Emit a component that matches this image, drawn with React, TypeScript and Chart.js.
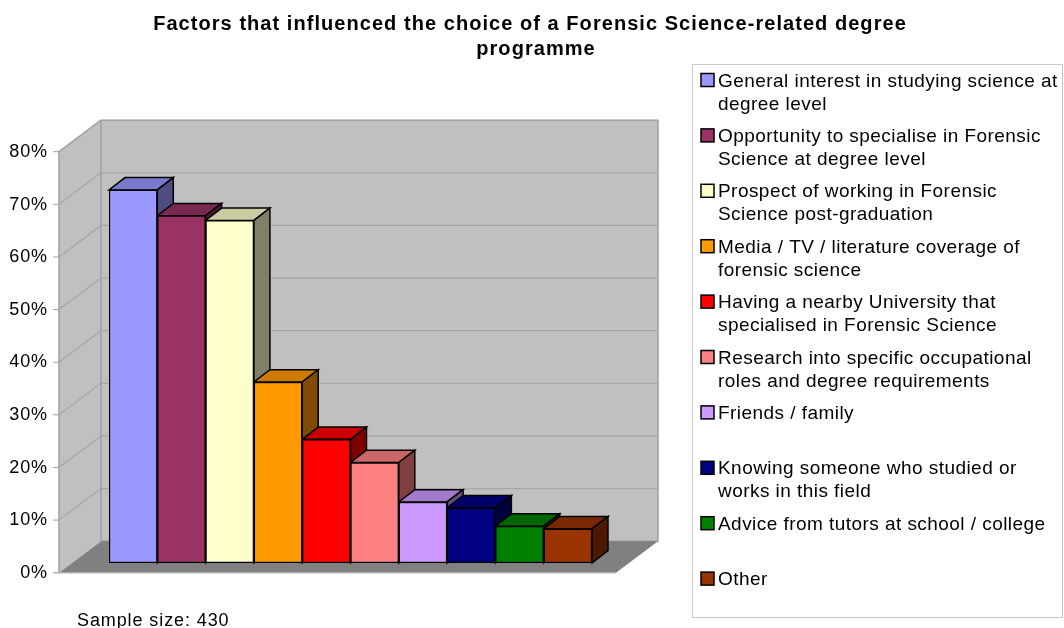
import React, { useEffect, useRef } from 'react';
import { Chart, registerables } from 'chart.js';

Chart.register(...registerables);

// ---------- data ----------
const titleLines = [
  'Factors that influenced the choice of a Forensic Science-related degree',
  'programme',
];

const categories: string[][] = [
  ['General interest in studying science at', 'degree level'],
  ['Opportunity to specialise in Forensic', 'Science at degree level'],
  ['Prospect of working in Forensic', 'Science post-graduation'],
  ['Media / TV / literature coverage of', 'forensic science'],
  ['Having a nearby University that', 'specialised in Forensic Science'],
  ['Research into specific occupational', 'roles and degree requirements'],
  ['Friends / family'],
  ['Knowing someone who studied or', 'works in this field'],
  ['Advice from tutors at school / college'],
  ['Other'],
];

const values = [70.9, 66.0, 65.1, 34.4, 23.5, 19.1, 11.6, 10.5, 7.0, 6.5];

const colors = [
  '#9999ff', '#993366', '#ffffcc', '#ff9900', '#ff0000',
  '#ff8080', '#cc99ff', '#000080', '#008000', '#993300',
];

const yMin = 0;
const yMax = 80;
const yStep = 10;
const tickSuffix = '%';

const note = 'Sample size: 430';

// ---------- styling helpers ----------
const FONT = "'Liberation Sans', Arial, sans-serif";

function shade(hex: string, f: number): string {
  const n = parseInt(hex.slice(1), 16);
  const r = Math.round(((n >> 16) & 255) * f);
  const g = Math.round(((n >> 8) & 255) * f);
  const b = Math.round((n & 255) * f);
  return `rgb(${r},${g},${b})`;
}

// oblique projection offsets relative to the plane of the bar front faces
const FRONT = { x: -13, y: 9.7 };
const BACK = { x: 29, y: -21.8 };
const DEPTH = { x: 16, y: -12.3 };

const threeD = {
  id: 'threeD',
  beforeDraw(chart: any) {
    chart.ctx.letterSpacing = '0.9px';
  },
  beforeDatasetsDraw(chart: any) {
    const { ctx, chartArea: ca, scales } = chart;
    const ys = scales.y;
    const xl = ca.left - 37;
    const xr = ca.right + 37;
    const y0 = ys.getPixelForValue(yMin);
    const yt = ys.getPixelForValue(yMax);
    ctx.save();
    ctx.lineJoin = 'miter';

    // back wall
    ctx.fillStyle = '#c0c0c0';
    ctx.fillRect(xl + BACK.x, yt + BACK.y, xr - xl, y0 - yt);
    // left wall
    ctx.beginPath();
    ctx.moveTo(xl + FRONT.x, yt + FRONT.y);
    ctx.lineTo(xl + BACK.x, yt + BACK.y);
    ctx.lineTo(xl + BACK.x, y0 + BACK.y);
    ctx.lineTo(xl + FRONT.x, y0 + FRONT.y);
    ctx.closePath();
    ctx.fill();

    // grid lines
    ctx.strokeStyle = '#a6a6a6';
    ctx.lineWidth = 1.2;
    for (const t of ys.ticks) {
      if (t.value <= yMin || t.value >= yMax) continue;
      const y = ys.getPixelForValue(t.value);
      ctx.beginPath();
      ctx.moveTo(xl + FRONT.x, y + FRONT.y);
      ctx.lineTo(xl + BACK.x, y + BACK.y);
      ctx.lineTo(xr + BACK.x, y + BACK.y);
      ctx.stroke();
    }

    // wall borders
    ctx.strokeStyle = '#a0a0a0';
    ctx.lineWidth = 1.5;
    ctx.strokeRect(xl + BACK.x, yt + BACK.y, xr - xl, y0 - yt);
    ctx.beginPath();
    ctx.moveTo(xl + FRONT.x, y0 + FRONT.y);
    ctx.lineTo(xl + FRONT.x, yt + FRONT.y);
    ctx.lineTo(xl + BACK.x, yt + BACK.y);
    ctx.stroke();

    // tick marks on front edge
    ctx.lineWidth = 1;
    for (const t of ys.ticks) {
      const y = ys.getPixelForValue(t.value) + FRONT.y;
      ctx.beginPath();
      ctx.moveTo(xl + FRONT.x - 6, y);
      ctx.lineTo(xl + FRONT.x, y);
      ctx.stroke();
    }

    // floor
    ctx.fillStyle = '#808080';
    ctx.beginPath();
    ctx.moveTo(xl + FRONT.x, y0 + FRONT.y);
    ctx.lineTo(xr + FRONT.x, y0 + FRONT.y);
    ctx.lineTo(xr + BACK.x, y0 + BACK.y);
    ctx.lineTo(xl + BACK.x, y0 + BACK.y);
    ctx.closePath();
    ctx.fill();
    ctx.strokeStyle = '#c8c8c8';
    ctx.lineWidth = 1;
    ctx.beginPath();
    ctx.moveTo(xl + FRONT.x - 6, y0 + FRONT.y + 0.5);
    ctx.lineTo(xr + FRONT.x, y0 + FRONT.y + 0.5);
    ctx.stroke();

    // bar tops and sides (fronts drawn by Chart.js)
    const meta = chart.getDatasetMeta(0);
    ctx.strokeStyle = '#000';
    ctx.lineWidth = 1.5;
    meta.data.forEach((el: any, i: number) => {
      const { x, y, width, base } = el.getProps(['x', 'y', 'width', 'base'], true);
      const L = x - width / 2;
      const R = x + width / 2;
      const T = Math.min(y, base);
      const B = Math.max(y, base);
      // top
      ctx.fillStyle = shade(colors[i], 0.8);
      ctx.beginPath();
      ctx.moveTo(L, T);
      ctx.lineTo(R, T);
      ctx.lineTo(R + DEPTH.x, T + DEPTH.y);
      ctx.lineTo(L + DEPTH.x, T + DEPTH.y);
      ctx.closePath();
      ctx.fill();
      ctx.stroke();
      // side
      ctx.fillStyle = shade(colors[i], 0.5);
      ctx.beginPath();
      ctx.moveTo(R, T);
      ctx.lineTo(R + DEPTH.x, T + DEPTH.y);
      ctx.lineTo(R + DEPTH.x, B + DEPTH.y);
      ctx.lineTo(R, B);
      ctx.closePath();
      ctx.fill();
      ctx.stroke();
    });
    ctx.restore();
  },
  afterDraw(chart: any) {
    const { ctx } = chart;
    ctx.save();
    ctx.fillStyle = '#000';
    ctx.textBaseline = 'alphabetic';

    // title
    ctx.font = `bold 20px ${FONT}`;
    ctx.letterSpacing = '1.05px';
    ctx.textAlign = 'center';
    ctx.fillText(titleLines[0], 530, 30);
    ctx.fillText(titleLines[1], 536, 55);

    // legend box
    ctx.strokeStyle = '#c8c8c8';
    ctx.lineWidth = 1;
    ctx.strokeRect(692.5, 64.5, 370, 553);

    ctx.font = `19px ${FONT}`;
    ctx.letterSpacing = '0.45px';
    ctx.textAlign = 'left';
    categories.forEach((lines, i) => {
      const base = 86.5 + 55.4 * i;
      ctx.fillStyle = colors[i];
      ctx.fillRect(701, base - 13, 13, 13);
      ctx.strokeStyle = '#000';
      ctx.lineWidth = 1.5;
      ctx.strokeRect(701, base - 13, 13, 13);
      ctx.fillStyle = '#000';
      lines.forEach((ln, j) => ctx.fillText(ln, 718, base + j * 23));
    });

    // note
    ctx.font = `18px ${FONT}`;
    ctx.letterSpacing = '0.9px';
    ctx.fillText(note, 77, 626);
    ctx.restore();
  },
};

export default function App() {
  const ref = useRef<HTMLCanvasElement>(null);
  useEffect(() => {
    if (!ref.current) return;
    const chart = new Chart(ref.current, {
      type: 'bar',
      data: {
        labels: categories,
        datasets: [
          {
            data: values,
            backgroundColor: colors,
            borderColor: '#000',
            borderWidth: 1.5,
            borderSkipped: false,
            categoryPercentage: 1,
            barPercentage: 1,
          },
        ],
      },
      options: {
        responsive: false,
        animation: false,
        devicePixelRatio: 1,
        layout: { padding: { left: 0, right: 472, top: 142, bottom: 65 } },
        plugins: {
          legend: { display: false },
          title: { display: false },
          tooltip: { enabled: false },
        },
        scales: {
          x: { display: false, offset: true },
          y: {
            min: yMin,
            max: yMax,
            grid: { display: false, drawTicks: false },
            border: { display: false },
            afterFit: (s: any) => {
              s.width = 109;
              s.paddingTop = 0;
              s.paddingBottom = 0;
            },
            ticks: {
              stepSize: yStep,
              padding: 61,
              labelOffset: 10,
              color: '#000',
              font: { family: FONT, size: 18 },
              callback: (v: any) => `${v}${tickSuffix}`,
            },
          },
        },
      },
      plugins: [threeD],
    });
    return () => chart.destroy();
  }, []);
  return (
    <div style={{ position: 'absolute', left: 0, top: 0, width: 1064, height: 628 }}>
      <canvas ref={ref} width={1064} height={628} />
    </div>
  );
}
